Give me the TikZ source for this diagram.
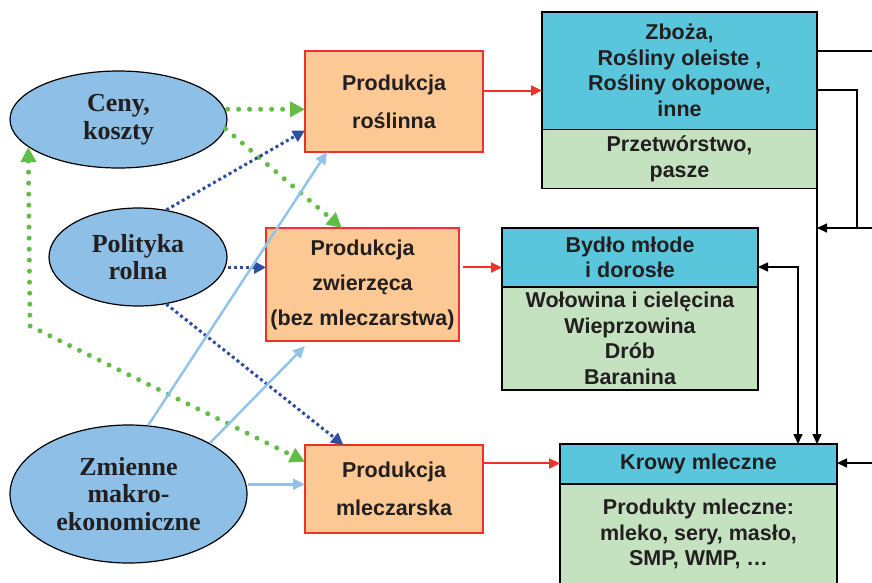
\documentclass[tikz,border=0pt]{standalone}
\usepackage{fontspec}
\setmainfont{Liberation Serif}
\setsansfont{Liberation Sans}
\usetikzlibrary{arrows.meta,shapes.geometric,positioning}

\begin{document}
\begin{tikzpicture}[x=1pt,y=-1pt,
  factor/.style={ellipse,draw=black,line width=1.2pt,fill=ellfill,inner sep=0pt,align=center,text=inkgray,font=\rmfamily\bfseries\fontsize{26}{27.5}\selectfont},
  prodbox/.style={rectangle,draw=boxred,line width=1.5pt,fill=peach,inner sep=0pt,outer sep=0pt,align=center,text=inkgray,font=\sffamily\bfseries\fontsize{21.5}{38}\selectfont},
  headbox/.style={rectangle,draw=black,line width=1.5pt,fill=headcyan,inner sep=0pt,outer sep=0pt,align=center,text=inkgray,font=\sffamily\bfseries\fontsize{21.5}{25.5}\selectfont},
  itembox/.style={headbox,fill=itemgreen},
  redarr/.style={draw=boxred,line width=2pt,-{Triangle[length=11pt,width=10pt]}},
  greendots/.style={draw=dotgreen,line width=5pt,line cap=round,dash pattern=on 0pt off 11pt,>={Triangle[length=15pt,width=15pt]},->},
  bluedots/.style={draw=dotblue,line width=3pt,dash pattern=on 3pt off 3pt,>={Triangle[length=12pt,width=12pt]},->},
  macroarr/.style={draw=macroblue,line width=2.5pt,>={Triangle[length=12pt,width=11pt]},->},
  flow/.style={draw=black,line width=1.5pt,>={Triangle[length=10pt,width=9pt]},->}]
\definecolor{ellfill}{RGB}{142,191,230}
\definecolor{peach}{RGB}{252,200,148}
\definecolor{boxred}{RGB}{237,50,45}
\definecolor{headcyan}{RGB}{90,198,219}
\definecolor{itemgreen}{RGB}{197,226,192}
\definecolor{dotgreen}{RGB}{98,189,70}
\definecolor{dotblue}{RGB}{48,78,160}
\definecolor{macroblue}{RGB}{146,196,234}
\definecolor{inkgray}{RGB}{35,31,32}
\fill[white] (0,0) rectangle (872,582);
\useasboundingbox (0,0) rectangle (872,582);

% czynniki
\node[factor,minimum width=217pt,minimum height=97pt] (ceny) at (118.5,119.5) {Ceny,\\koszty};
\node[factor,minimum width=178pt,minimum height=98pt] (polityka) at (138,257) {Polityka\\rolna};
\node[factor,minimum width=237pt,minimum height=138pt] (zmienne) at (128.5,494) {Zmienne\\makro-\\ekonomiczne};

% produkcja
\node[prodbox,minimum width=178pt,minimum height=101pt] (roslinna) at (394,101.5) {Produkcja\\roślinna};
\node[prodbox,minimum width=193pt,minimum height=113pt,font=\sffamily\bfseries\fontsize{21.5}{35}\selectfont] (zwierzeca) at (362.5,284.5) {Produkcja\\zwierzęca\\(bez mleczarstwa)};
\node[prodbox,minimum width=178pt,minimum height=88pt] (mleczarska) at (394,489) {Produkcja\\mleczarska};

% produkty
\node[headbox,minimum width=275pt,minimum height=117.5pt] (zboza) at (679.5,70.5) {Zboża,\\Rośliny oleiste ,\\Rośliny okopowe,\\inne};
\node[itembox,minimum width=275pt,minimum height=59pt,below=0pt of zboza] (pasze) {Przetwórstwo,\\pasze};
\node[headbox,minimum width=256pt,minimum height=59pt] (bydlo) at (630,257.5) {Bydło młode\\i dorosłe};
\node[itembox,minimum width=256pt,minimum height=103pt,below=0pt of bydlo] (mieso) {Wołowina i cielęcina\\Wieprzowina\\Drób\\Baranina};
\node[headbox,minimum width=277pt,minimum height=40pt] (krowy) at (698.5,464) {Krowy mleczne};
\node[itembox,minimum width=277pt,minimum height=100pt,below=0pt of krowy] (mleko) {Produkty mleczne:\\mleko, sery, masło,\\SMP, WMP, …};

\coordinate (turn) at (30,326);
\coordinate (edgeA) at (872,51);
\coordinate (bendB) at (857,90);
\coordinate (edgeB) at (872,228);
\coordinate (bendC) at (798,267);
\coordinate (edgeD) at (872,463);

% wplywy
\draw[greendots] (ceny.east |- roslinna.185) -- (roslinna.185);
\draw[greendots] (ceny.-5) -- (zwierzeca.110);
\draw[greendots,<->] (ceny.197) -- (turn) -- (mleczarska.163);
\draw[bluedots] (polityka.59) -- (roslinna.198);
\draw[bluedots] (polityka.east |- zwierzeca.170) -- (zwierzeca.170);
\draw[bluedots] (polityka.-59) -- (mleczarska.139);
\draw[macroarr] (zmienne.74) -- (roslinna.-143);
\draw[macroarr,shorten >=7pt] (zmienne.32) -- (zwierzeca.-133);
\draw[macroarr] (zmienne.east |- mleczarska.177) -- (mleczarska.177);

% produkcja -> produkty
\draw[redarr] (roslinna.7) -- (roslinna.7 -| zboza.west);
\draw[redarr,shorten <=4pt] (zwierzeca.10) -- (zwierzeca.10 -| bydlo.west);
\draw[redarr] (mleczarska.16) -- (mleczarska.16 -| krowy.west);

% powiazania
\draw[flow,-] (zboza.east |- edgeA) -- (edgeA);
\draw[flow,-] (zboza.east |- bendB) -- (bendB) -- (bendB |- edgeB);
\draw[flow] (edgeB) -- (pasze.south east |- edgeB);
\draw[flow] (pasze.south east) -- (pasze.south east |- krowy.north);
\draw[flow,<->] (bydlo.east |- bendC) -- (bendC) -- (bendC |- krowy.north);
\draw[flow] (edgeD) -- (krowy.east |- edgeD);
\end{tikzpicture}
\end{document}
